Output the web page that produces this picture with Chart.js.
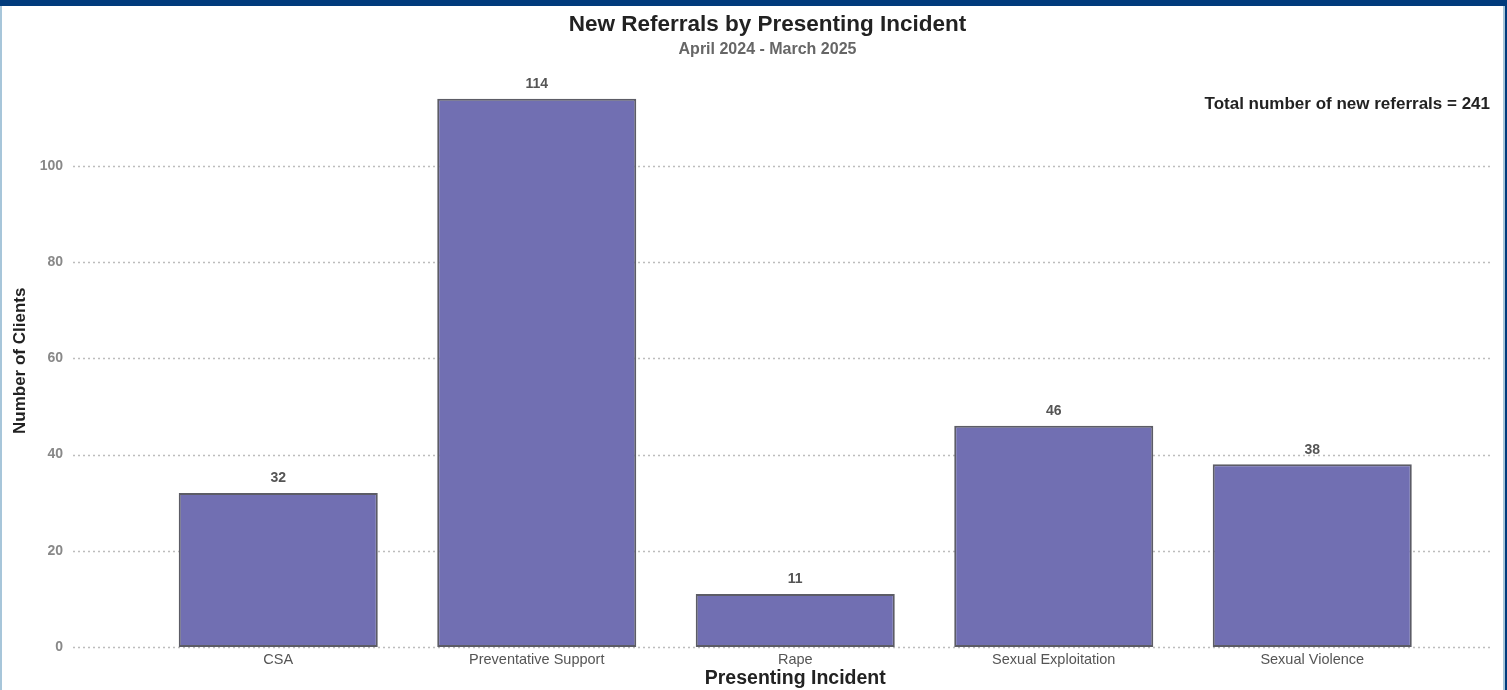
<!DOCTYPE html>
<html>
<head>
<meta charset="utf-8">
<title>New Referrals by Presenting Incident</title>
<script src="https://cdn.jsdelivr.net/npm/chart.js@4.4.1/dist/chart.umd.min.js"></script>
<style>
  html, body { margin: 0; padding: 0; background: #fff; overflow: hidden; }
  #wrap { position: relative; width: 1507px; height: 690px; }
  #chart { position: absolute; left: 0; top: 0; }
  .edge { position: absolute; }
  #topBar { left: 0; top: 0; width: 1507px; height: 6px; background: #013b7c; }
  #leftLine { left: 0; top: 6px; width: 2px; height: 684px; background: #a7c6da; }
  #rightLine { left: 1503px; top: 6px; width: 2px; height: 684px; background: #a7c6da; }
  #rightBar { left: 1505px; top: 0; width: 2px; height: 690px; background: #013b7c; }
</style>
</head>
<body>
<div id="wrap">
  <canvas id="chart" width="1507" height="690"></canvas>
  <div class="edge" id="topBar"></div>
  <div class="edge" id="leftLine"></div>
  <div class="edge" id="rightLine"></div>
  <div class="edge" id="rightBar"></div>
</div>
<script>
// données : nouvelles orientations par type d'incident
const categories = ["CSA", "Preventative Support", "Rape", "Sexual Exploitation", "Sexual Violence"];
const clients = [32, 114, 11, 46, 38];
const totalReferrals = 241;
const yTicks = [0, 20, 40, 60, 80, 100];
const chartTitle = "New Referrals by Presenting Incident";
const chartPeriod = "April 2024 - March 2025";

const FONT = "'Liberation Sans', Arial, sans-serif";

// lignes pointillées horizontales, plus larges que la zone des barres
const dottedGrid = {
  id: "dottedGrid",
  beforeDatasetsDraw(chart) {
    const { ctx, scales: { y } } = chart;
    ctx.save();
    ctx.strokeStyle = "#bdbdbd";
    ctx.lineWidth = 1.5;
    ctx.setLineDash([2, 3]);
    yTicks.forEach(v => {
      const py = Math.round(y.getPixelForValue(v)) + 0.5;
      ctx.beginPath();
      ctx.moveTo(73, py);
      ctx.lineTo(1491, py);
      ctx.stroke();
    });
    ctx.restore();
  }
};

// titre centré sur toute la page, valeurs au-dessus des barres, total à droite
const textLayer = {
  id: "textLayer",
  afterDatasetsDraw(chart) {
    const { ctx } = chart;
    const meta = chart.getDatasetMeta(0);
    ctx.save();
    ctx.textAlign = "center";
    ctx.textBaseline = "middle";

    ctx.font = "bold 22.5px " + FONT;
    ctx.fillStyle = "#222";
    ctx.fillText(chartTitle, 767.5, 25);
    ctx.font = "bold 16px " + FONT;
    ctx.fillStyle = "#666";
    ctx.fillText(chartPeriod, 767.5, 50);

    ctx.font = "bold 14px " + FONT;
    ctx.fillStyle = "#555";
    meta.data.forEach((bar, i) => {
      ctx.fillText(String(clients[i]), bar.x, bar.y - 14.5);
    });

    ctx.font = "bold 17px " + FONT;
    ctx.fillStyle = "#222";
    ctx.textAlign = "right";
    ctx.fillText("Total number of new referrals = " + totalReferrals, 1490, 104);
    ctx.restore();
  }
};

new Chart(document.getElementById("chart"), {
  type: "bar",
  data: {
    labels: categories,
    datasets: [{
      data: clients,
      backgroundColor: "#716fb2",
      borderColor: "#5c5c66",
      borderWidth: 2,
      borderSkipped: false,
      categoryPercentage: 1,
      barPercentage: 0.77
    }]
  },
  options: {
    responsive: false,
    animation: false,
    layout: { padding: { left: 0, right: 65.5, top: 74.6, bottom: 0 } },
    plugins: {
      legend: { display: false },
      tooltip: { enabled: false },
      title: { display: false }
    },
    scales: {
      x: {
        grid: { display: false, drawTicks: false },
        border: { display: false },
        ticks: { color: "#555", font: { family: FONT, size: 14.5 }, padding: 4, maxRotation: 0 },
        title: {
          display: true,
          text: "Presenting Incident",
          color: "#222",
          font: { family: FONT, size: 19.5, weight: "bold" },
          padding: { top: 0, bottom: 0 }
        },
        afterFit(scale) { scale.height = 43; }
      },
      y: {
        min: 0,
        max: 119,
        grid: { display: false, drawTicks: false },
        border: { display: false },
        ticks: {
          stepSize: 20,
          includeBounds: false,
          color: "#888",
          font: { family: FONT, size: 14, weight: "bold" },
          padding: 86
        },
        title: {
          display: true,
          text: "Number of Clients",
          color: "#222",
          font: { family: FONT, size: 17, weight: "bold" },
          padding: { top: 9.8, bottom: 0 }
        },
        afterFit(scale) {
          // largeur fixe, sans la marge verticale ajoutée par ticks.padding
          scale.width = 149;
          scale.paddingTop = 0;
          scale.paddingBottom = 0;
        }
      }
    }
  },
  plugins: [dottedGrid, textLayer]
});
</script>
</body>
</html>
